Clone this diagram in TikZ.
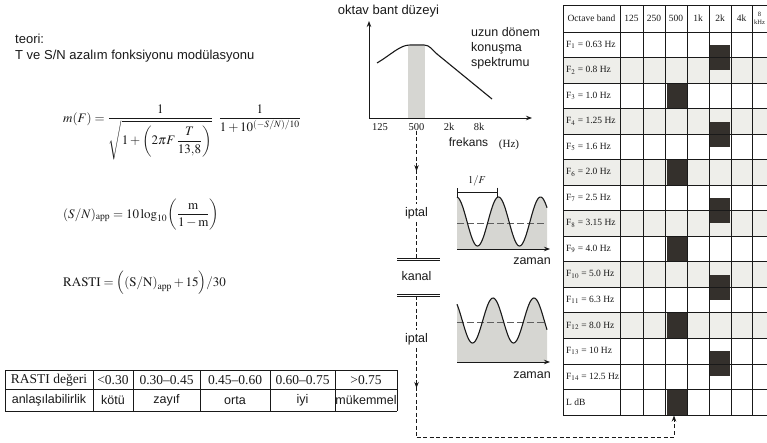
\documentclass[tikz,border=0pt]{standalone}
\usepackage{mathptmx}
\usepackage{amsmath}
\usepackage{fontspec}
\setmainfont{Liberation Serif}
\setsansfont{Liberation Sans}
\usetikzlibrary{arrows.meta, positioning, decorations.markings}
\definecolor{ink}{RGB}{25,25,25}
\definecolor{speck}{RGB}{214,214,210}
\definecolor{rowtint}{RGB}{238,238,234}
\definecolor{darkcell}{RGB}{52,48,44}

\begin{document}
\begin{tikzpicture}[
  x=1pt, y=-1pt,
  txt/.style={font=\sffamily\fontsize{13}{15}\selectfont, text=ink, inner sep=0pt},
  lbl/.style={font=\sffamily\fontsize{12.5}{15}\selectfont, text=ink, inner sep=0pt},
  num/.style={font=\fontsize{10.5}{12}\selectfont, text=ink, inner sep=0pt},
  cell/.style={font=\fontsize{13.5}{15}\selectfont, text=ink, inner sep=0pt},
  tab/.style={font=\fontsize{9.5}{11}\selectfont, text=ink, inner sep=0pt},
  eq/.style={font=\fontsize{13}{15}\selectfont, text=ink, inner sep=0pt},
  axisline/.style={-{Stealth[length=6pt,width=4.5pt]}, line width=0.9pt, draw=ink},
  flow/.style={draw=ink, line width=0.9pt, dash pattern=on 4pt off 2.5pt},
  midarrow/.style={postaction={decorate}, decoration={markings,
    mark=at position #1 with {\arrow{Stealth[length=6pt,width=4.5pt]}}}},
  midarrow/.default=0.5,
  chan/.style={draw=ink, double, double distance=1.8pt, line width=0.7pt},
  meanline/.style={draw=ink!70, line width=0.8pt, dash pattern=on 7pt off 3pt},
  wave/.style={draw=ink, line width=1.1pt},
  tabline/.style={draw=ink, line width=0.7pt}
]
\useasboundingbox (0,0) rectangle (767,442);
\clip (0,0) rectangle (767,442);

% theory
\node[txt, anchor=base west] (teori) at (15,43) {teori:};
\node[txt, anchor=base west] (baslik) at (15,59) {T ve S/N azalım fonksiyonu modülasyonu};

\node[eq, anchor=base west] (mf) at (63,122)
  {$m(F) = \dfrac{1}{\sqrt{1+\left(2\pi F\,\dfrac{T}{13{,}8}\right)}}\;\;\dfrac{1}{1+10^{(-S/N)/10}}$};
\node[eq, anchor=base west] (snapp) at (63,218)
  {$(S/N)_{\mathrm{app}} = 10\log_{10}\!\left(\dfrac{\mathrm{m}}{1-\mathrm{m}}\right)$};
\node[eq, anchor=base west] (rasti) at (63,286)
  {$\mathrm{RASTI} = \Bigl(\mathrm{(S/N)}_{\mathrm{app}} + 15\Bigr)/30$};

% RASTI table
\foreach \x in {5,93,133,200,270,335,397}
  \draw[tabline] (\x,370) -- (\x,411);
\foreach \y in {370,389,411}
  \draw[tabline] (5,\y) -- (397,\y);
\node[cell] (deger) at (49,380) {RASTI değeri};
\node[cell] (r1) at (113,380) {<0.30};
\node[cell] (r2) at (166.5,380) {0.30--0.45};
\node[cell] (r3) at (235,380) {0.45--0.60};
\node[cell] (r4) at (302.5,380) {0.60--0.75};
\node[cell] (r5) at (366,380) {>0.75};
\node[lbl] (anlas) at (49,400.5) {anlaşılabilirlik};
\node[lbl] (a1) at (113,400.5) {kötü};
\node[lbl] (a2) at (166.5,400.5) {zayıf};
\node[lbl] (a3) at (235,400.5) {orta};
\node[lbl] (a4) at (302.5,400.5) {iyi};
\node[lbl] (a5) at (366,400.5) {mükemmel};

% speech spectrum
\node[txt] (duzey) at (388.5,11) {oktav bant düzeyi};
\fill[speck] (408,46) rectangle (425,118);
\draw[axisline] (369,118) -- (369,21);
\draw[axisline] (369,118) -- (532,118);
\draw[ink, line width=1.1pt] (377,63) .. controls (392,54) and (400,45) .. (410,45)
  -- (424,45) .. controls (430,45) and (432,50) .. (437,54) -- (492,99);
\node[lbl, anchor=west, align=left] (uzun) at (471,48) {uzun dönem\\konuşma\\spektrumu};
\node[num] (f125) at (380,127) {125};
\node[num] (f500) at (416.5,127) {500};
\node[num] (f2k) at (449,127) {2k};
\node[num] (f8k) at (479,127) {8k};
\node[lbl, font=\sffamily\fontsize{12}{14}\selectfont] (frekans) at (468.5,142) {frekans};
\node[num, font=\fontsize{11}{13}\selectfont] (hz) at (509,145) {(Hz)};

% channel
\node[lbl, outer sep=3pt] (ipt1) at (416.5,213) {iptal};
\node[lbl] (kanal) at (416.5,276) {kanal};
\node[lbl, outer sep=3pt] (ipt2) at (416.5,339) {iptal};
\coordinate (ktop) at (416.5,259.5);
\coordinate (kbot) at (416.5,295.5);
\draw[chan] ([xshift=-19.5pt]ktop) -- ([xshift=23.5pt]ktop);
\draw[chan] ([xshift=-19.5pt]kbot) -- ([xshift=23.5pt]kbot);

% waveforms
\fill[speck] (457,249) -- plot[domain=457:547, samples=90] (\x, {221.5-24.5*cos(8.5714*(\x-456.5))}) -- (547,249) -- cycle;
\draw[meanline] (457,223) -- (547,223);
\draw[wave] plot[domain=457:547, samples=90] (\x, {221.5-24.5*cos(8.5714*(\x-456.5))});
\draw[axisline] (457,249) -- (550,249);
\draw[ink, line width=0.7pt, {Bar[width=9pt]}-{Bar[width=9pt]}] (457,192) -- (498,192);
\node[num] (periyot) at (477,181) {$1/F$};
\node[lbl] (zaman1) at (532,261) {zaman};

\fill[speck] (457,362) -- plot[domain=457:547, samples=90] (\x, {320.5-22.5*cos(8.7805*(\x-493))}) -- (547,362) -- cycle;
\draw[meanline] (457,322) -- (547,322);
\draw[wave] plot[domain=457:547, samples=90] (\x, {320.5-22.5*cos(8.7805*(\x-493))});
\draw[axisline] (457,362) -- (550,362);
\node[lbl] (zaman2) at (532,375) {zaman};

% modulation table
\foreach \k in {2,4,6,8,10,12}
  \fill[rowtint] (563,{32+(\k-1)*25.53}) rectangle (774,{32+\k*25.53});
\foreach \k in {3,6,9,12,15}
  \fill[darkcell] (667,{32+(\k-1)*25.53}) rectangle (687,{32+\k*25.53});
\foreach \k in {1,4,7,10,13}
  \fill[darkcell] (710,{32+\k*25.53-12.5}) rectangle (730,{32+\k*25.53+12.5});
\foreach \x in {563,620,643,665,687,709,731,752,774}
  \draw[tabline] (\x,5) -- (\x,415);
\draw[tabline] (563,5) -- (774,5);
\foreach \k in {0,...,15}
  \draw[tabline] (563,{32+\k*25.53}) -- (774,{32+\k*25.53});
\node[tab] (oband) at (591.5,18.5) {Octave band};
\foreach \x/\b in {631.5/125, 654/250, 676/500, 698/1k, 720/2k, 741.5/4k}
  \node[tab] (b\b) at (\x,18.5) {\b};
\node[tab, font=\fontsize{6.5}{7.5}\selectfont, align=center] (b8k) at (759.5,18.5) {8\\kHz};
\foreach \k/\f in {1/0.63, 2/0.8, 3/1.0, 4/1.25, 5/1.6, 6/2.0, 7/2.5, 8/3.15,
                   9/4.0, 10/5.0, 11/6.3, 12/8.0, 13/10, 14/12.5}
  \node[tab, anchor=west] (mod\k) at (566,{32+(\k-0.5)*25.53}) {F$_{\k}$ = \f\ Hz};
\node[tab, anchor=west] (ldbl) at (566,{32+14.5*25.53}) {L dB};
\coordinate (ldb) at (674,415.5);

% path through the channel
\coordinate (turn) at (416.5,437);
\draw[flow, midarrow=0.55] (f500.south) -- (ipt1.north);
\draw[flow] (ipt1.south) -- (ktop);
\draw[flow] (kbot) -- (ipt2.north);
\draw[flow, midarrow=0.45] (ipt2.south) -- (turn);
\draw[flow, -{Stealth[length=6pt,width=4.5pt]}] (turn) -| (ldb);
\end{tikzpicture}
\end{document}
